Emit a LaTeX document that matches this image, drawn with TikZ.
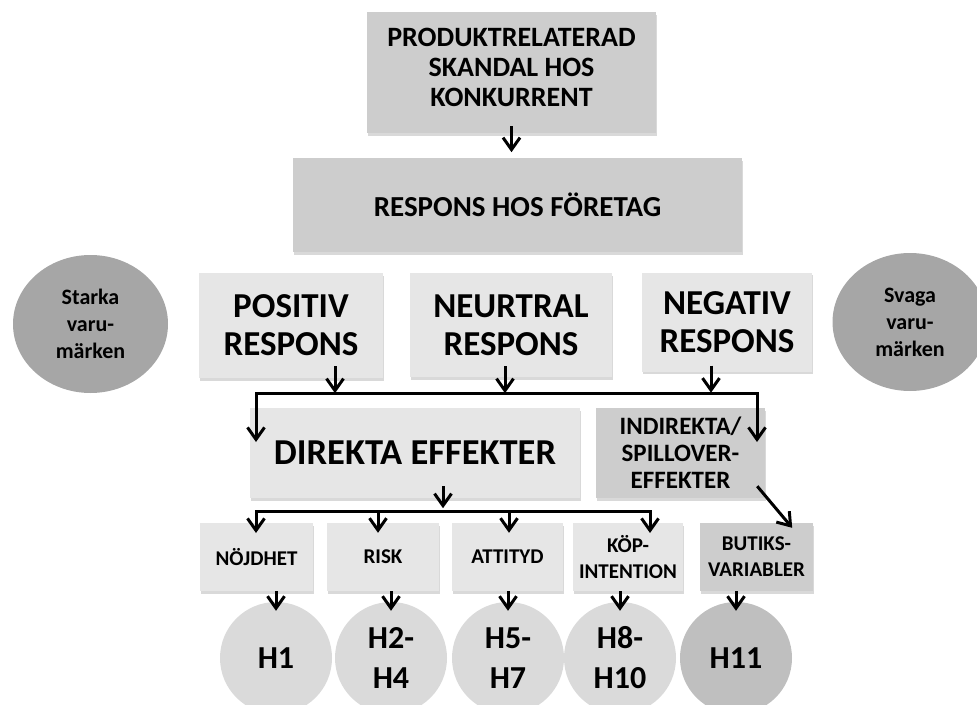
\documentclass[tikz,border=0pt]{standalone}
\usepackage{fontspec}
\setmainfont{Carlito}
\usetikzlibrary{calc,arrows.meta,shadows,shapes.geometric}

\definecolor{midgrey}{HTML}{CDCDCD}
\definecolor{lightgrey}{HTML}{E6E6E6}
\definecolor{hypgrey}{HTML}{DADADA}
\definecolor{hypdark}{HTML}{BFBFBF}
\definecolor{brandgrey}{HTML}{A6A6A6}

\newcommand\boxfont[2]{\fontsize{#1}{#2}\selectfont\bfseries}

\tikzset{
  box/.style={fill=#1, align=center, inner sep=0pt,
    drop shadow={shadow xshift=0.5pt, shadow yshift=-2.5pt, opacity=0.3}},
  box/.default=lightgrey,
  brand/.style={ellipse, fill=brandgrey, align=center, inner sep=0pt,
    minimum width=155, minimum height=138, font=\boxfont{22}{27}},
  hyp/.style={circle, fill=#1, align=center, inner sep=0pt,
    minimum size=112, font=\boxfont{32}{40}},
  hyp/.default=hypgrey,
  arr/.style={-{Straight Barb[length=12pt,width=17pt]}, line width=3pt},
  barbs/.style={{Straight Barb[length=12pt,width=17pt]}-{Straight Barb[length=12pt,width=17pt]}, line width=3pt}
}

\begin{document}
\begin{tikzpicture}[x=1pt,y=-1pt]
  \useasboundingbox (0,0) rectangle (977,704);

  % scandal and response
  \node[box=midgrey, minimum width=289, minimum height=121, font=\boxfont{28}{30}] (skandal) at (511.5,72.5) {PRODUKTRELATERAD\\SKANDAL HOS\\KONKURRENT\\[-20pt]\mbox{}};
  \node[box=midgrey, minimum width=449, minimum height=94, font=\boxfont{29}{34}] (respons) at (517.5,205) {RESPONS HOS FÖRETAG};
  \draw[arr] ($(skandal.south)+(0,-7)$) -- ++(0,26);

  % kinds of response
  \node[box, minimum width=184, minimum height=105, font=\boxfont{35}{38}] (pos) at (291,325.5) {POSITIV\\RESPONS};
  \node[box, minimum width=202, minimum height=104, font=\boxfont{35}{38}] (neu) at (511,325) {NEURTRAL\\RESPONS};
  \node[box, minimum width=170, minimum height=99, font=\boxfont{35}{38}] (neg) at (727,322) {NEGATIV\\RESPONS};

  \node[brand] (stark) at (90.5,324) {Starka\\varu-\\märken};
  \node[brand] (svag) at (910,322) {Svaga\\varu-\\märken};

  % effects
  \node[box, minimum width=330, minimum height=90, font=\boxfont{36.5}{38}] (dir) at (415,453) {DIREKTA EFFEKTER};
  \node[box=midgrey, minimum width=169, minimum height=90, font=\boxfont{25}{27}] (ind) at (680.5,453) {INDIREKTA/\\SPILLOVER-\\EFFEKTER};

  \draw[arr] ($(pos.south)+(44,-12)$) -- ++(0,27);
  \draw[arr] ($(neu.south)+(-6,-11)$) -- ++(0,27);
  \draw[arr] ($(neg.south)+(-16,-6)$) -- ++(0,27);
  \coordinate (b1w) at (256,442);
  \coordinate (b1e) at (757,442);
  \draw[barbs] (b1w) -- ++(0,-49) -| (b1e);

  % variables
  \node[box, minimum width=113, minimum height=68, font=\boxfont{21}{26}] (noj) at (256.5,557) {NÖJDHET};
  \node[box, minimum width=112, minimum height=68, font=\boxfont{21}{26}] (risk) at (383,557) {RISK};
  \node[box, minimum width=111, minimum height=68, font=\boxfont{21}{26}] (att) at (507.5,557) {ATTITYD};
  \node[box, minimum width=110, minimum height=68, font=\boxfont{21}{26}] (kop) at (628,557) {KÖP-\\INTENTION};
  \node[box=midgrey, minimum width=113, minimum height=68, font=\boxfont{21}{26}] (but) at (756.5,557) {BUTIKS-\\VARIABLER};

  \draw[arr] ($(dir.south)+(28,-12)$) -- ++(0,22);
  \coordinate (b2w) at (256,533);
  \coordinate (b2e) at (650,533);
  \draw[barbs] (b2w) -- ++(0,-22) -| (b2e);
  \draw[arr] ($(risk.north)+(-5,-12)$) -- ++(0,22);
  \draw[arr] ($(att.north)+(1.5,-12)$) -- ++(0,22);
  \draw[arr] ($(ind.south east)+(-8,-12)$) -- ($(but.north east)+(-21,5)$);

  % hypotheses
  \node[hyp] (h1) at (276,658) {H1};
  \node[hyp] (h2) at (391,658) {H2-\\H4};
  \node[hyp] (h5) at (508,658) {H5-\\H7};
  \node[hyp] (h8) at (620,658) {H8-\\H10};
  \node[hyp=hypdark] (h11) at (736,658) {H11};

  \foreach \b/\h in {noj/h1,risk/h2,att/h5,kop/h8,but/h11}{
    \draw[arr] (\b.south -| \h.north) -- ($(\h.north)+(0,9)$);
  }
\end{tikzpicture}
\end{document}
